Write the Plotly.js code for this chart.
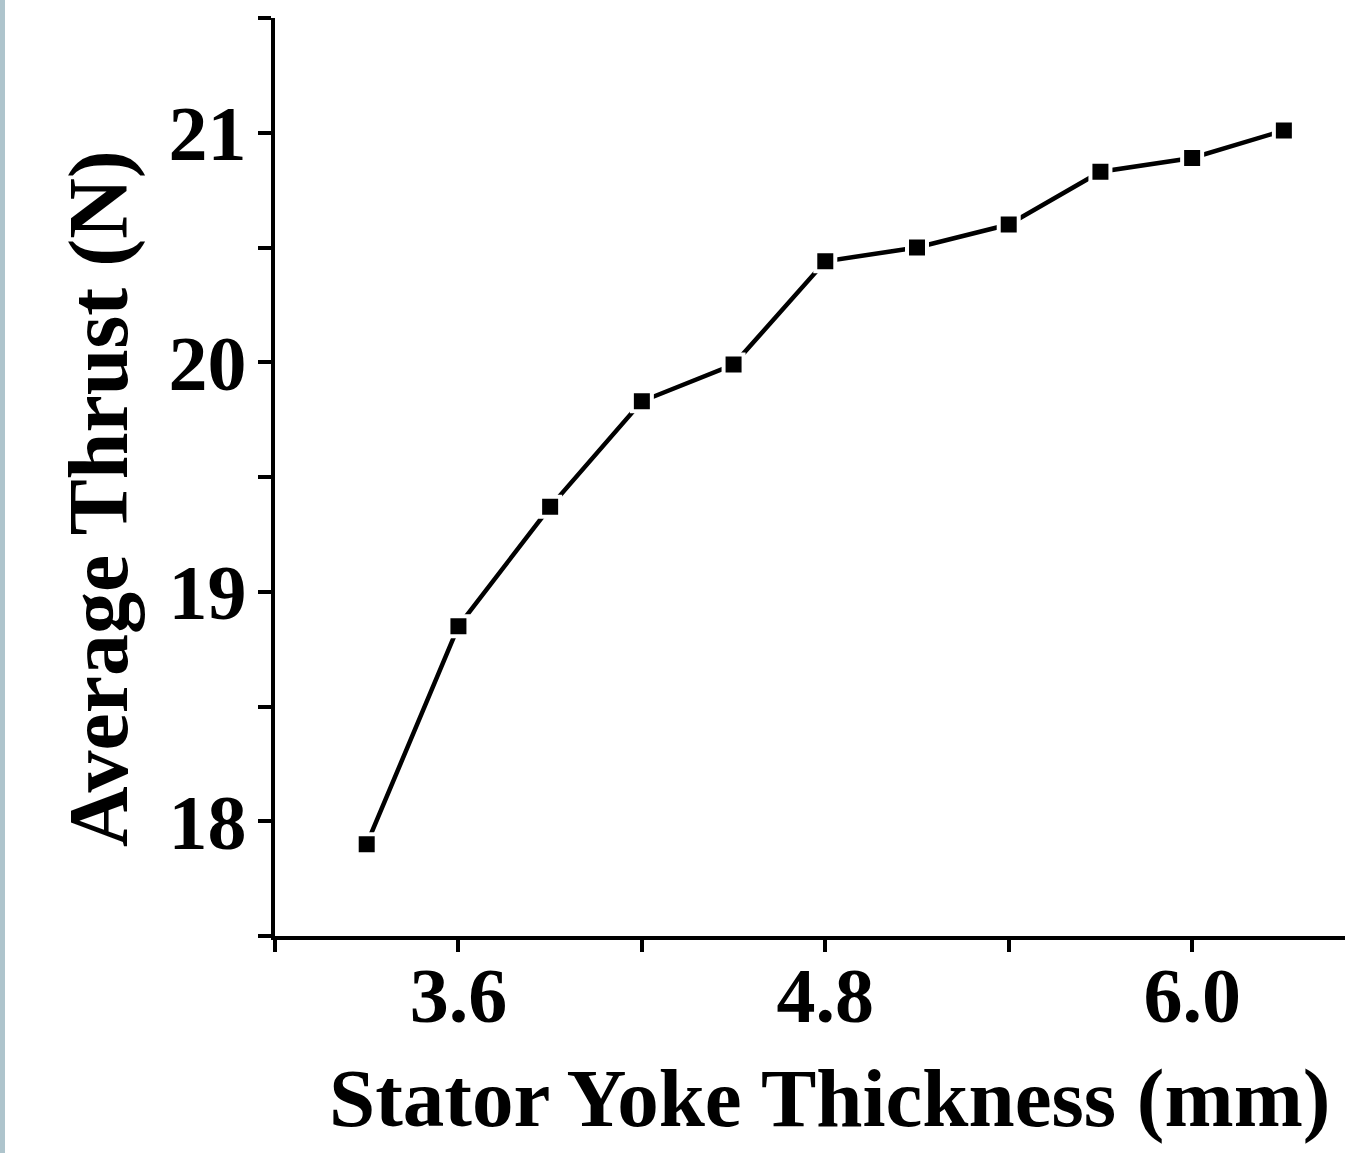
<!DOCTYPE html>
<html>
<head>
<meta charset="utf-8">
<script src="https://cdn.plot.ly/plotly-3.0.1.min.js"></script>
<style>
  html, body { margin: 0; padding: 0; background: #ffffff; }
  #wrap { position: relative; width: 1345px; height: 1153px; }
  #bar { position: absolute; left: 0; top: 0; width: 5px; height: 1153px; background: #aec4cc; z-index: 5; }
  #chart { position: absolute; left: 0; top: 0; width: 1345px; height: 1153px; }
</style>
</head>
<body>
<div id="wrap"><div id="chart"></div><div id="bar"></div></div>
<script>
// Data
const thickness = [3.3, 3.6, 3.9, 4.2, 4.5, 4.8, 5.1, 5.4, 5.7, 6.0, 6.3];
const avgThrust = [17.90, 18.85, 19.37, 19.83, 19.99, 20.44, 20.50, 20.60, 20.83, 20.89, 21.01];
const xTitle = 'Stator Yoke Thickness (mm)';
const yTitle = 'Average Thrust (N)';

const font = { family: 'Liberation Serif, Times New Roman, serif', weight: 'bold', color: '#000000' };

const trace = {
  x: thickness,
  y: avgThrust,
  type: 'scatter',
  mode: 'lines+markers',
  line: { color: '#000000', width: 4.5 },
  marker: { symbol: 'square', size: 20, color: '#000000', line: { color: '#ffffff', width: 4 } },
  showlegend: false
};

const layout = {
  width: 1345,
  height: 1153,
  margin: { l: 275, r: 0, t: 18, b: 217 },
  paper_bgcolor: '#ffffff',
  plot_bgcolor: '#ffffff',
  showlegend: false,
  xaxis: {
    range: [3.0, 6.5],
    tick0: 3.6, dtick: 1.2,
    tickformat: '.1f',
    ticks: 'outside', ticklen: 12, tickwidth: 4, tickcolor: '#000000',
    ticklabelstandoff: -24,
    showline: true, linewidth: 4, linecolor: '#000000',
    showgrid: false, zeroline: false,
    tickfont: Object.assign({ size: 78 }, font),
    minor: { tick0: 3.0, dtick: 0.6, ticks: 'outside', ticklen: 12, tickwidth: 4, tickcolor: '#000000', showgrid: false }
  },
  yaxis: {
    range: [17.5, 21.5],
    tick0: 18, dtick: 1,
    ticks: 'outside', ticklen: 13, tickwidth: 4, tickcolor: '#000000',
    ticklabelstandoff: -4,
    showline: true, linewidth: 4, linecolor: '#000000',
    showgrid: false, zeroline: false,
    tickfont: Object.assign({ size: 78 }, font),
    minor: { tick0: 17.5, dtick: 0.5, ticks: 'outside', ticklen: 13, tickwidth: 4, tickcolor: '#000000', showgrid: false }
  },
  annotations: [
    {
      text: xTitle, xref: 'paper', yref: 'paper', x: 0.5178, y: -0.1765,
      xanchor: 'center', yanchor: 'middle', showarrow: false,
      font: Object.assign({ size: 83 }, font)
    },
    {
      text: yTitle, xref: 'paper', yref: 'paper', x: -0.1645, y: 0.4771,
      xanchor: 'center', yanchor: 'middle', showarrow: false, textangle: -90,
      font: Object.assign({ size: 84 }, font)
    }
  ]
};

Plotly.newPlot('chart', [trace], layout, { displayModeBar: false, staticPlot: true });
</script>
</body>
</html>
